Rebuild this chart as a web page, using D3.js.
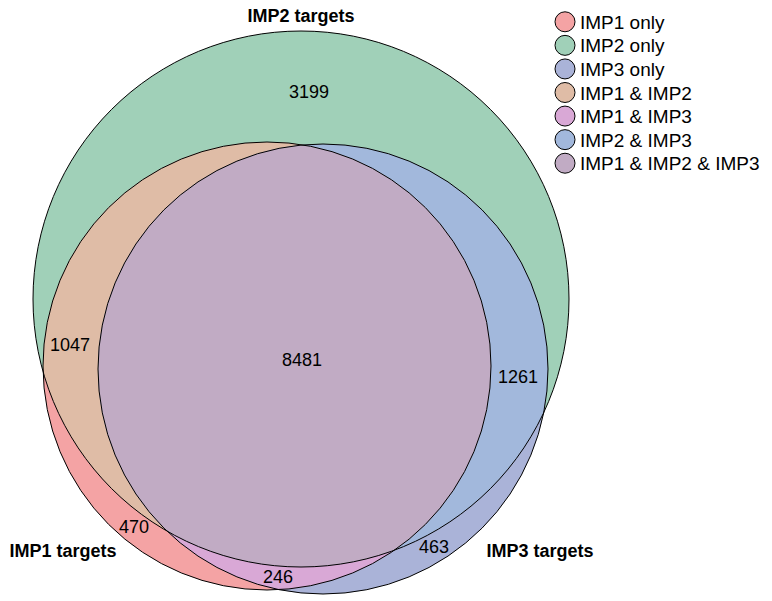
<!DOCTYPE html>
<html><head><meta charset="utf-8">
<script src="https://cdn.jsdelivr.net/npm/d3@7"></script>
<style>body{margin:0;background:#fff}</style></head>
<body><svg id="c" width="772" height="601"></svg>
<script>
const setNames = ["IMP1 targets","IMP2 targets","IMP3 targets"];
const regionNames = ["IMP1 only","IMP2 only","IMP3 only","IMP1 & IMP2","IMP1 & IMP3","IMP2 & IMP3","IMP1 & IMP2 & IMP3"];
const regionValues = [470, 3199, 463, 1047, 246, 1261, 8481];
const regionColors = ["#f4a3a4","#a0d0b8","#aab3d8","#dfbca6","#d9a8d6","#a2b8dc","#c1abc4"];

const svg = d3.select("#c");
const font = "Arial, Liberation Sans, sans-serif";
const circles = [{cx:267,cy:366,r:224},{cx:301,cy:299,r:268},{cx:323,cy:369,r:225}];
const defs = svg.append("defs");
circles.forEach((c,i)=>defs.append("clipPath").attr("id","k"+i).append("circle").attr("cx",c.cx).attr("cy",c.cy).attr("r",c.r));
function circ(g,i,col){g.append("circle").attr("cx",circles[i].cx).attr("cy",circles[i].cy).attr("r",circles[i].r).attr("fill",col);}
const g = svg.append("g");
circ(g,1,regionColors[1]); circ(g,0,regionColors[0]); circ(g,2,regionColors[2]);
circ(g.append("g").attr("clip-path","url(#k0)"),1,regionColors[3]);
circ(g.append("g").attr("clip-path","url(#k0)"),2,regionColors[4]);
circ(g.append("g").attr("clip-path","url(#k1)"),2,regionColors[5]);
circ(g.append("g").attr("clip-path","url(#k0)").append("g").attr("clip-path","url(#k1)"),2,regionColors[6]);
circles.forEach(c=>g.append("circle").attr("cx",c.cx).attr("cy",c.cy).attr("r",c.r).attr("fill","none").attr("stroke","#000").attr("stroke-width",1));

const labelPos = [[134,527],[309,92],[434,547],[70,345],[278,577],[518,377],[302,360]];
regionValues.forEach((v,i)=>svg.append("text").attr("x",labelPos[i][0]).attr("y",labelPos[i][1]+6)
  .attr("text-anchor","middle").attr("font-family",font).attr("font-size",18).text(v));
const setPos = [[63,557],[301,22],[540,557]];
setNames.forEach((s,i)=>svg.append("text").attr("x",setPos[i][0]).attr("y",setPos[i][1])
  .attr("text-anchor","middle").attr("font-family",font).attr("font-size",18).attr("font-weight","bold").text(s));

const y = d3.scaleBand().domain(regionNames).range([10,175]);
const leg = svg.append("g");
regionNames.forEach((n,i)=>{
  const yy = y(n)+y.bandwidth()/2;
  leg.append("circle").attr("cx",565).attr("cy",yy).attr("r",10).attr("fill",regionColors[i]).attr("stroke","#000").attr("stroke-width",1);
  leg.append("text").attr("x",580).attr("y",yy+7).attr("font-family",font).attr("font-size",19).text(n);
});
</script></body></html>
